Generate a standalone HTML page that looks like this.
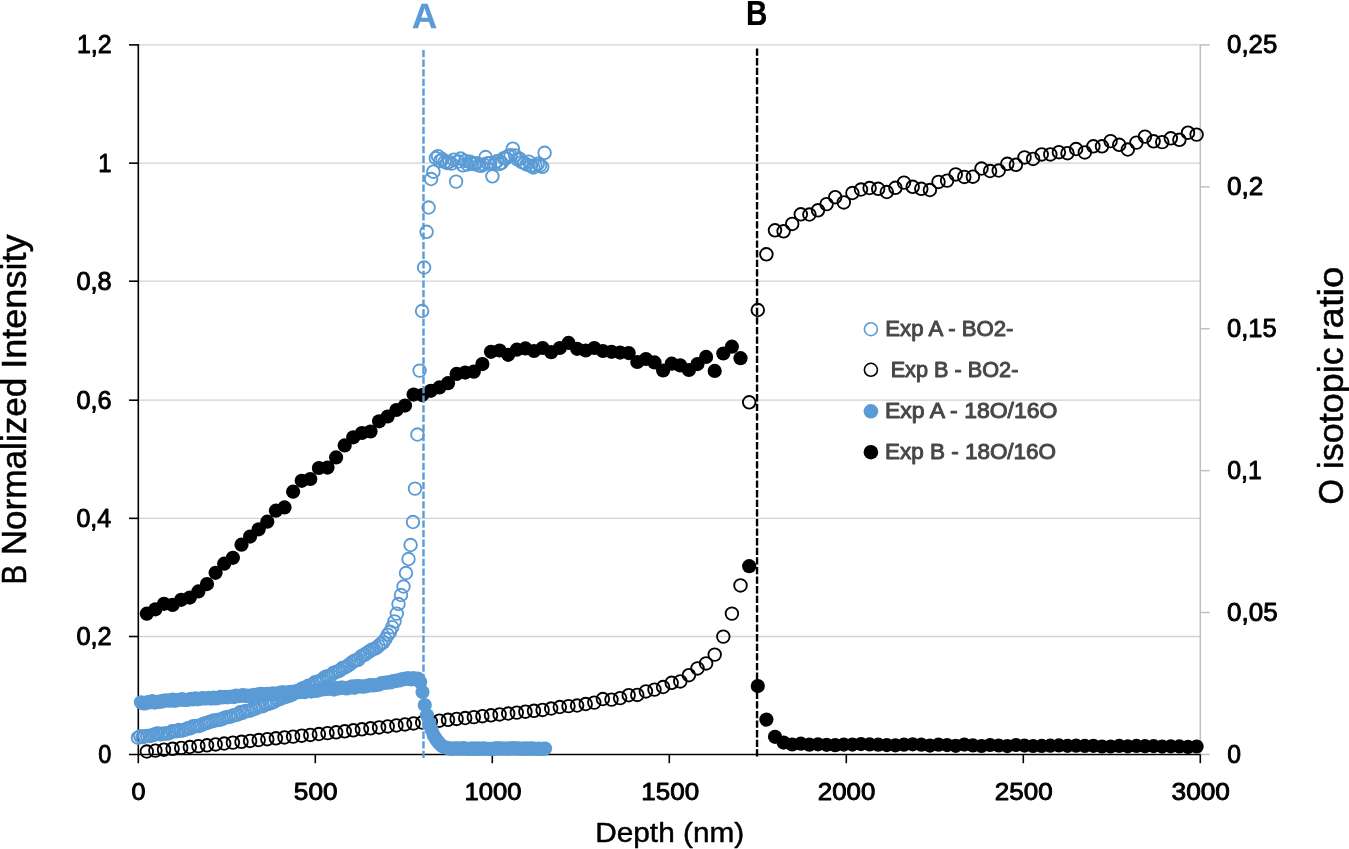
<!DOCTYPE html>
<html lang="en"><head><meta charset="utf-8"><title>B normalized intensity and O isotopic ratio versus depth</title>
<style>html,body{margin:0;padding:0;background:#fff;}body{width:1349px;height:849px;overflow:hidden;}svg{display:block;will-change:transform;filter:blur(0.4px);}text{font-family:"Liberation Sans",sans-serif;}</style></head><body>
<svg width="1349" height="849" viewBox="0 0 1349 849">
<rect width="1349" height="849" fill="#fff"/>
<g stroke="#d2d2d2" stroke-width="1.3" fill="none"><line x1="138.3" y1="44.90" x2="1200.3" y2="44.90"/><line x1="138.3" y1="163.15" x2="1200.3" y2="163.15"/><line x1="138.3" y1="281.20" x2="1200.3" y2="281.20"/><line x1="138.3" y1="400.20" x2="1200.3" y2="400.20"/><line x1="138.3" y1="518.35" x2="1200.3" y2="518.35"/><line x1="138.3" y1="636.50" x2="1200.3" y2="636.50"/></g>
<g stroke="#bfbfbf" stroke-width="1.5" fill="none"><line x1="1200.3" y1="44.9" x2="1200.3" y2="754.5"/><line x1="1200.3" y1="44.90" x2="1209.7" y2="44.90"/><line x1="1200.3" y1="186.81" x2="1209.7" y2="186.81"/><line x1="1200.3" y1="328.72" x2="1209.7" y2="328.72"/><line x1="1200.3" y1="470.63" x2="1209.7" y2="470.63"/><line x1="1200.3" y1="612.54" x2="1209.7" y2="612.54"/><line x1="1200.3" y1="754.45" x2="1209.7" y2="754.45"/></g>
<g stroke="#000" stroke-width="1.6" fill="none"><line x1="138.3" y1="44.3" x2="138.3" y2="763.2"/><line x1="129.0" y1="754.5" x2="1200.3" y2="754.5"/><line x1="129.0" y1="44.90" x2="138.3" y2="44.90"/><line x1="129.0" y1="163.15" x2="138.3" y2="163.15"/><line x1="129.0" y1="281.20" x2="138.3" y2="281.20"/><line x1="129.0" y1="400.20" x2="138.3" y2="400.20"/><line x1="129.0" y1="518.35" x2="138.3" y2="518.35"/><line x1="129.0" y1="636.50" x2="138.3" y2="636.50"/><line x1="315.30" y1="754.5" x2="315.30" y2="763.2"/><line x1="492.30" y1="754.5" x2="492.30" y2="763.2"/><line x1="669.30" y1="754.5" x2="669.30" y2="763.2"/><line x1="846.30" y1="754.5" x2="846.30" y2="763.2"/><line x1="1023.30" y1="754.5" x2="1023.30" y2="763.2"/><line x1="1200.30" y1="754.5" x2="1200.30" y2="763.2"/></g>
<g fill="none" stroke="#5b9bd5" stroke-width="1.85"><circle cx="138.0" cy="737.7" r="6.3"/><circle cx="140.3" cy="736.3" r="6.3"/><circle cx="142.5" cy="737.1" r="6.3"/><circle cx="144.8" cy="736.3" r="6.3"/><circle cx="147.1" cy="736.0" r="6.3"/><circle cx="149.4" cy="736.0" r="6.3"/><circle cx="151.6" cy="735.4" r="6.3"/><circle cx="153.9" cy="734.9" r="6.3"/><circle cx="156.2" cy="733.7" r="6.3"/><circle cx="158.4" cy="733.5" r="6.3"/><circle cx="160.7" cy="734.3" r="6.3"/><circle cx="163.0" cy="733.6" r="6.3"/><circle cx="165.2" cy="733.5" r="6.3"/><circle cx="167.5" cy="733.6" r="6.3"/><circle cx="169.8" cy="732.8" r="6.3"/><circle cx="172.1" cy="731.3" r="6.3"/><circle cx="174.3" cy="731.2" r="6.3"/><circle cx="176.6" cy="731.2" r="6.3"/><circle cx="178.9" cy="730.0" r="6.3"/><circle cx="181.1" cy="730.7" r="6.3"/><circle cx="183.4" cy="730.2" r="6.3"/><circle cx="185.7" cy="729.4" r="6.3"/><circle cx="187.9" cy="728.2" r="6.3"/><circle cx="190.2" cy="728.3" r="6.3"/><circle cx="192.5" cy="726.5" r="6.3"/><circle cx="194.8" cy="726.3" r="6.3"/><circle cx="197.0" cy="726.0" r="6.3"/><circle cx="199.3" cy="726.0" r="6.3"/><circle cx="201.6" cy="724.9" r="6.3"/><circle cx="203.8" cy="723.6" r="6.3"/><circle cx="206.1" cy="723.2" r="6.3"/><circle cx="208.4" cy="722.5" r="6.3"/><circle cx="210.6" cy="721.7" r="6.3"/><circle cx="212.9" cy="720.8" r="6.3"/><circle cx="215.2" cy="720.5" r="6.3"/><circle cx="217.5" cy="719.9" r="6.3"/><circle cx="219.7" cy="719.8" r="6.3"/><circle cx="222.0" cy="719.1" r="6.3"/><circle cx="224.3" cy="717.9" r="6.3"/><circle cx="226.5" cy="717.1" r="6.3"/><circle cx="228.8" cy="716.9" r="6.3"/><circle cx="231.1" cy="716.4" r="6.3"/><circle cx="233.3" cy="715.4" r="6.3"/><circle cx="235.6" cy="714.9" r="6.3"/><circle cx="237.9" cy="714.5" r="6.3"/><circle cx="240.2" cy="712.2" r="6.3"/><circle cx="242.4" cy="713.0" r="6.3"/><circle cx="244.7" cy="711.2" r="6.3"/><circle cx="247.0" cy="710.9" r="6.3"/><circle cx="249.2" cy="710.8" r="6.3"/><circle cx="251.5" cy="709.9" r="6.3"/><circle cx="253.8" cy="708.2" r="6.3"/><circle cx="256.0" cy="708.4" r="6.3"/><circle cx="258.3" cy="706.6" r="6.3"/><circle cx="260.6" cy="706.2" r="6.3"/><circle cx="262.9" cy="706.2" r="6.3"/><circle cx="265.1" cy="704.6" r="6.3"/><circle cx="267.4" cy="704.1" r="6.3"/><circle cx="269.7" cy="703.4" r="6.3"/><circle cx="271.9" cy="702.7" r="6.3"/><circle cx="274.2" cy="701.7" r="6.3"/><circle cx="276.5" cy="699.5" r="6.3"/><circle cx="278.7" cy="699.4" r="6.3"/><circle cx="281.0" cy="698.6" r="6.3"/><circle cx="283.3" cy="697.0" r="6.3"/><circle cx="285.6" cy="697.0" r="6.3"/><circle cx="287.8" cy="696.1" r="6.3"/><circle cx="290.1" cy="695.4" r="6.3"/><circle cx="292.4" cy="694.5" r="6.3"/><circle cx="294.6" cy="692.0" r="6.3"/><circle cx="296.9" cy="691.1" r="6.3"/><circle cx="299.2" cy="690.9" r="6.3"/><circle cx="301.4" cy="688.9" r="6.3"/><circle cx="303.7" cy="688.0" r="6.3"/><circle cx="306.0" cy="687.5" r="6.3"/><circle cx="308.3" cy="685.8" r="6.3"/><circle cx="310.5" cy="685.8" r="6.3"/><circle cx="312.8" cy="684.8" r="6.3"/><circle cx="315.1" cy="682.1" r="6.3"/><circle cx="317.3" cy="681.8" r="6.3"/><circle cx="319.6" cy="681.1" r="6.3"/><circle cx="321.9" cy="680.3" r="6.3"/><circle cx="324.1" cy="677.8" r="6.3"/><circle cx="326.4" cy="676.4" r="6.3"/><circle cx="328.7" cy="676.5" r="6.3"/><circle cx="331.0" cy="675.4" r="6.3"/><circle cx="333.2" cy="673.0" r="6.3"/><circle cx="335.5" cy="672.2" r="6.3"/><circle cx="337.8" cy="671.4" r="6.3"/><circle cx="340.0" cy="670.4" r="6.3"/><circle cx="342.3" cy="668.0" r="6.3"/><circle cx="344.6" cy="667.6" r="6.3"/><circle cx="346.8" cy="666.5" r="6.3"/><circle cx="349.1" cy="664.8" r="6.3"/><circle cx="351.4" cy="662.8" r="6.3"/><circle cx="353.7" cy="661.3" r="6.3"/><circle cx="355.9" cy="660.3" r="6.3"/><circle cx="358.2" cy="659.8" r="6.3"/><circle cx="360.5" cy="657.0" r="6.3"/><circle cx="362.7" cy="655.4" r="6.3"/><circle cx="365.0" cy="654.6" r="6.3"/><circle cx="367.3" cy="652.6" r="6.3"/><circle cx="369.5" cy="651.3" r="6.3"/><circle cx="371.8" cy="649.6" r="6.3"/><circle cx="374.1" cy="649.0" r="6.3"/><circle cx="376.4" cy="647.9" r="6.3"/><circle cx="378.6" cy="645.9" r="6.3"/><circle cx="380.9" cy="643.8" r="6.3"/><circle cx="383.2" cy="642.4" r="6.3"/><circle cx="385.4" cy="639.0" r="6.3"/><circle cx="387.7" cy="634.8" r="6.3"/><circle cx="390.0" cy="631.8" r="6.3"/><circle cx="392.2" cy="627.1" r="6.3"/><circle cx="394.5" cy="621.4" r="6.3"/><circle cx="396.8" cy="613.6" r="6.3"/><circle cx="398.5" cy="604.0" r="6.3"/><circle cx="401.0" cy="595.0" r="6.3"/><circle cx="403.5" cy="586.5" r="6.3"/><circle cx="406.0" cy="573.0" r="6.3"/><circle cx="408.5" cy="559.0" r="6.3"/><circle cx="410.6" cy="545.0" r="6.3"/><circle cx="413.0" cy="522.0" r="6.3"/><circle cx="415.0" cy="488.6" r="6.3"/><circle cx="417.4" cy="434.5" r="6.3"/><circle cx="419.6" cy="370.6" r="6.3"/><circle cx="422.1" cy="311.0" r="6.3"/><circle cx="424.1" cy="267.5" r="6.3"/><circle cx="426.6" cy="231.8" r="6.3"/><circle cx="428.6" cy="207.5" r="6.3"/><circle cx="431.1" cy="179.0" r="6.3"/><circle cx="433.4" cy="171.7" r="6.3"/><circle cx="435.8" cy="158.0" r="6.3"/><circle cx="438.0" cy="156.2" r="6.3"/><circle cx="440.2" cy="160.9" r="6.3"/><circle cx="442.5" cy="159.3" r="6.3"/><circle cx="444.7" cy="161.9" r="6.3"/><circle cx="447.0" cy="162.9" r="6.3"/><circle cx="449.3" cy="161.9" r="6.3"/><circle cx="451.5" cy="163.6" r="6.3"/><circle cx="453.8" cy="159.6" r="6.3"/><circle cx="456.1" cy="181.6" r="6.3"/><circle cx="458.4" cy="161.5" r="6.3"/><circle cx="460.6" cy="158.5" r="6.3"/><circle cx="462.9" cy="165.3" r="6.3"/><circle cx="465.2" cy="160.9" r="6.3"/><circle cx="467.4" cy="164.5" r="6.3"/><circle cx="469.7" cy="161.6" r="6.3"/><circle cx="472.0" cy="163.5" r="6.3"/><circle cx="474.2" cy="164.1" r="6.3"/><circle cx="476.5" cy="163.2" r="6.3"/><circle cx="478.8" cy="165.3" r="6.3"/><circle cx="481.1" cy="165.8" r="6.3"/><circle cx="483.3" cy="164.4" r="6.3"/><circle cx="485.6" cy="157.0" r="6.3"/><circle cx="487.9" cy="163.2" r="6.3"/><circle cx="490.1" cy="163.1" r="6.3"/><circle cx="492.4" cy="176.3" r="6.3"/><circle cx="494.7" cy="163.1" r="6.3"/><circle cx="496.9" cy="161.3" r="6.3"/><circle cx="499.2" cy="164.1" r="6.3"/><circle cx="501.5" cy="162.8" r="6.3"/><circle cx="503.8" cy="158.1" r="6.3"/><circle cx="506.0" cy="158.2" r="6.3"/><circle cx="508.3" cy="155.9" r="6.3"/><circle cx="510.6" cy="155.3" r="6.3"/><circle cx="512.8" cy="148.7" r="6.3"/><circle cx="515.1" cy="155.4" r="6.3"/><circle cx="517.4" cy="159.5" r="6.3"/><circle cx="519.6" cy="158.7" r="6.3"/><circle cx="521.9" cy="162.1" r="6.3"/><circle cx="524.2" cy="163.0" r="6.3"/><circle cx="526.5" cy="164.5" r="6.3"/><circle cx="528.7" cy="161.6" r="6.3"/><circle cx="531.0" cy="165.8" r="6.3"/><circle cx="533.3" cy="167.5" r="6.3"/><circle cx="535.5" cy="165.9" r="6.3"/><circle cx="537.8" cy="163.8" r="6.3"/><circle cx="540.1" cy="165.4" r="6.3"/><circle cx="542.3" cy="166.8" r="6.3"/><circle cx="544.6" cy="152.8" r="6.3"/></g>
<g fill="none" stroke="#000" stroke-width="1.85"><circle cx="146.8" cy="751.5" r="6.3"/><circle cx="155.4" cy="750.6" r="6.3"/><circle cx="164.0" cy="749.7" r="6.3"/><circle cx="172.6" cy="748.8" r="6.3"/><circle cx="181.2" cy="747.9" r="6.3"/><circle cx="189.8" cy="747.0" r="6.3"/><circle cx="198.4" cy="746.1" r="6.3"/><circle cx="207.0" cy="745.3" r="6.3"/><circle cx="215.6" cy="744.4" r="6.3"/><circle cx="224.2" cy="743.5" r="6.3"/><circle cx="232.9" cy="742.6" r="6.3"/><circle cx="241.5" cy="741.8" r="6.3"/><circle cx="250.1" cy="740.9" r="6.3"/><circle cx="258.7" cy="740.0" r="6.3"/><circle cx="267.3" cy="739.2" r="6.3"/><circle cx="275.9" cy="738.3" r="6.3"/><circle cx="284.5" cy="737.4" r="6.3"/><circle cx="293.1" cy="736.6" r="6.3"/><circle cx="301.7" cy="735.7" r="6.3"/><circle cx="310.3" cy="734.9" r="6.3"/><circle cx="318.9" cy="734.0" r="6.3"/><circle cx="327.5" cy="733.1" r="6.3"/><circle cx="336.1" cy="732.3" r="6.3"/><circle cx="344.7" cy="731.3" r="6.3"/><circle cx="353.3" cy="730.3" r="6.3"/><circle cx="361.9" cy="729.3" r="6.3"/><circle cx="370.5" cy="728.3" r="6.3"/><circle cx="379.1" cy="727.4" r="6.3"/><circle cx="387.7" cy="726.4" r="6.3"/><circle cx="396.4" cy="725.4" r="6.3"/><circle cx="405.0" cy="724.4" r="6.3"/><circle cx="413.6" cy="723.4" r="6.3"/><circle cx="422.2" cy="722.5" r="6.3"/><circle cx="430.8" cy="721.6" r="6.3"/><circle cx="439.4" cy="720.7" r="6.3"/><circle cx="448.0" cy="719.8" r="6.3"/><circle cx="456.6" cy="718.9" r="6.3"/><circle cx="465.2" cy="718.0" r="6.3"/><circle cx="473.8" cy="717.1" r="6.3"/><circle cx="482.4" cy="716.2" r="6.3"/><circle cx="491.0" cy="715.3" r="6.3"/><circle cx="499.6" cy="714.4" r="6.3"/><circle cx="508.2" cy="713.5" r="6.3"/><circle cx="516.8" cy="712.6" r="6.3"/><circle cx="525.4" cy="711.7" r="6.3"/><circle cx="534.0" cy="710.8" r="6.3"/><circle cx="542.6" cy="709.9" r="6.3"/><circle cx="551.2" cy="708.5" r="6.3"/><circle cx="559.8" cy="707.0" r="6.3"/><circle cx="568.5" cy="706.1" r="6.3"/><circle cx="577.1" cy="705.5" r="6.3"/><circle cx="585.7" cy="704.0" r="6.3"/><circle cx="594.3" cy="702.6" r="6.3"/><circle cx="602.9" cy="699.0" r="6.3"/><circle cx="611.5" cy="699.6" r="6.3"/><circle cx="620.1" cy="698.1" r="6.3"/><circle cx="628.7" cy="695.2" r="6.3"/><circle cx="637.3" cy="694.9" r="6.3"/><circle cx="645.9" cy="691.4" r="6.3"/><circle cx="654.5" cy="689.6" r="6.3"/><circle cx="663.1" cy="687.0" r="6.3"/><circle cx="671.7" cy="682.8" r="6.3"/><circle cx="680.3" cy="681.4" r="6.3"/><circle cx="688.9" cy="675.2" r="6.3"/><circle cx="697.5" cy="668.4" r="6.3"/><circle cx="706.1" cy="663.4" r="6.3"/><circle cx="714.7" cy="654.6" r="6.3"/><circle cx="723.3" cy="636.6" r="6.3"/><circle cx="731.9" cy="613.6" r="6.3"/><circle cx="740.5" cy="585.4" r="6.3"/><circle cx="749.2" cy="402.3" r="6.3"/><circle cx="757.8" cy="310.0" r="6.3"/><circle cx="766.4" cy="254.3" r="6.3"/><circle cx="775.0" cy="230.3" r="6.3"/><circle cx="783.6" cy="231.3" r="6.3"/><circle cx="792.2" cy="223.9" r="6.3"/><circle cx="800.8" cy="214.3" r="6.3"/><circle cx="809.4" cy="214.5" r="6.3"/><circle cx="818.0" cy="210.3" r="6.3"/><circle cx="826.6" cy="204.1" r="6.3"/><circle cx="835.2" cy="197.2" r="6.3"/><circle cx="843.8" cy="202.4" r="6.3"/><circle cx="852.4" cy="193.0" r="6.3"/><circle cx="861.0" cy="189.5" r="6.3"/><circle cx="869.6" cy="188.0" r="6.3"/><circle cx="878.2" cy="188.8" r="6.3"/><circle cx="886.8" cy="192.0" r="6.3"/><circle cx="895.4" cy="187.8" r="6.3"/><circle cx="904.0" cy="182.6" r="6.3"/><circle cx="912.7" cy="186.8" r="6.3"/><circle cx="921.3" cy="188.8" r="6.3"/><circle cx="929.9" cy="190.0" r="6.3"/><circle cx="938.5" cy="181.9" r="6.3"/><circle cx="947.1" cy="180.6" r="6.3"/><circle cx="955.7" cy="174.4" r="6.3"/><circle cx="964.3" cy="176.9" r="6.3"/><circle cx="972.9" cy="176.7" r="6.3"/><circle cx="981.5" cy="168.5" r="6.3"/><circle cx="990.1" cy="171.0" r="6.3"/><circle cx="998.7" cy="170.5" r="6.3"/><circle cx="1007.3" cy="163.8" r="6.3"/><circle cx="1015.9" cy="164.8" r="6.3"/><circle cx="1024.5" cy="157.4" r="6.3"/><circle cx="1033.1" cy="158.9" r="6.3"/><circle cx="1041.7" cy="154.4" r="6.3"/><circle cx="1050.3" cy="154.4" r="6.3"/><circle cx="1058.9" cy="152.2" r="6.3"/><circle cx="1067.5" cy="153.2" r="6.3"/><circle cx="1076.1" cy="149.0" r="6.3"/><circle cx="1084.8" cy="152.4" r="6.3"/><circle cx="1093.4" cy="146.3" r="6.3"/><circle cx="1102.0" cy="146.3" r="6.3"/><circle cx="1110.6" cy="141.1" r="6.3"/><circle cx="1119.2" cy="144.8" r="6.3"/><circle cx="1127.8" cy="149.5" r="6.3"/><circle cx="1136.4" cy="142.6" r="6.3"/><circle cx="1145.0" cy="136.6" r="6.3"/><circle cx="1153.6" cy="141.3" r="6.3"/><circle cx="1162.2" cy="142.1" r="6.3"/><circle cx="1170.8" cy="138.3" r="6.3"/><circle cx="1179.4" cy="139.8" r="6.3"/><circle cx="1188.0" cy="132.7" r="6.3"/><circle cx="1196.6" cy="134.6" r="6.3"/></g>
<g fill="#5b9bd5"><circle cx="141.0" cy="702.3" r="7.1"/><circle cx="143.3" cy="703.5" r="7.1"/><circle cx="145.5" cy="703.3" r="7.1"/><circle cx="147.8" cy="702.2" r="7.1"/><circle cx="150.1" cy="702.3" r="7.1"/><circle cx="152.4" cy="701.2" r="7.1"/><circle cx="154.6" cy="702.6" r="7.1"/><circle cx="156.9" cy="702.1" r="7.1"/><circle cx="159.2" cy="701.7" r="7.1"/><circle cx="161.4" cy="701.7" r="7.1"/><circle cx="163.7" cy="700.6" r="7.1"/><circle cx="166.0" cy="700.6" r="7.1"/><circle cx="168.2" cy="700.3" r="7.1"/><circle cx="170.5" cy="700.7" r="7.1"/><circle cx="172.8" cy="699.7" r="7.1"/><circle cx="175.1" cy="700.8" r="7.1"/><circle cx="177.3" cy="700.0" r="7.1"/><circle cx="179.6" cy="699.8" r="7.1"/><circle cx="181.9" cy="699.1" r="7.1"/><circle cx="184.1" cy="699.9" r="7.1"/><circle cx="186.4" cy="700.0" r="7.1"/><circle cx="188.7" cy="699.6" r="7.1"/><circle cx="190.9" cy="698.8" r="7.1"/><circle cx="193.2" cy="699.5" r="7.1"/><circle cx="195.5" cy="698.4" r="7.1"/><circle cx="197.8" cy="699.3" r="7.1"/><circle cx="200.0" cy="698.8" r="7.1"/><circle cx="202.3" cy="698.2" r="7.1"/><circle cx="204.6" cy="698.4" r="7.1"/><circle cx="206.8" cy="698.5" r="7.1"/><circle cx="209.1" cy="697.8" r="7.1"/><circle cx="211.4" cy="698.6" r="7.1"/><circle cx="213.6" cy="697.7" r="7.1"/><circle cx="215.9" cy="698.4" r="7.1"/><circle cx="218.2" cy="698.1" r="7.1"/><circle cx="220.5" cy="696.8" r="7.1"/><circle cx="222.7" cy="697.5" r="7.1"/><circle cx="225.0" cy="696.8" r="7.1"/><circle cx="227.3" cy="697.3" r="7.1"/><circle cx="229.5" cy="696.8" r="7.1"/><circle cx="231.8" cy="696.5" r="7.1"/><circle cx="234.1" cy="697.1" r="7.1"/><circle cx="236.3" cy="695.6" r="7.1"/><circle cx="238.6" cy="696.2" r="7.1"/><circle cx="240.9" cy="695.7" r="7.1"/><circle cx="243.2" cy="695.1" r="7.1"/><circle cx="245.4" cy="696.1" r="7.1"/><circle cx="247.7" cy="695.6" r="7.1"/><circle cx="250.0" cy="696.0" r="7.1"/><circle cx="252.2" cy="695.4" r="7.1"/><circle cx="254.5" cy="694.8" r="7.1"/><circle cx="256.8" cy="695.6" r="7.1"/><circle cx="259.0" cy="694.1" r="7.1"/><circle cx="261.3" cy="693.8" r="7.1"/><circle cx="263.6" cy="694.7" r="7.1"/><circle cx="265.9" cy="694.0" r="7.1"/><circle cx="268.1" cy="693.8" r="7.1"/><circle cx="270.4" cy="694.5" r="7.1"/><circle cx="272.7" cy="693.4" r="7.1"/><circle cx="274.9" cy="694.1" r="7.1"/><circle cx="277.2" cy="693.6" r="7.1"/><circle cx="279.5" cy="692.9" r="7.1"/><circle cx="281.7" cy="692.3" r="7.1"/><circle cx="284.0" cy="692.4" r="7.1"/><circle cx="286.3" cy="693.4" r="7.1"/><circle cx="288.6" cy="692.4" r="7.1"/><circle cx="290.8" cy="691.8" r="7.1"/><circle cx="293.1" cy="691.9" r="7.1"/><circle cx="295.4" cy="692.7" r="7.1"/><circle cx="297.6" cy="691.3" r="7.1"/><circle cx="299.9" cy="692.2" r="7.1"/><circle cx="302.2" cy="691.0" r="7.1"/><circle cx="304.4" cy="692.2" r="7.1"/><circle cx="306.7" cy="691.3" r="7.1"/><circle cx="309.0" cy="690.4" r="7.1"/><circle cx="311.3" cy="691.6" r="7.1"/><circle cx="313.5" cy="690.6" r="7.1"/><circle cx="315.8" cy="690.9" r="7.1"/><circle cx="318.1" cy="690.4" r="7.1"/><circle cx="320.3" cy="689.5" r="7.1"/><circle cx="322.6" cy="689.3" r="7.1"/><circle cx="324.9" cy="689.2" r="7.1"/><circle cx="327.1" cy="689.0" r="7.1"/><circle cx="329.4" cy="688.6" r="7.1"/><circle cx="331.7" cy="688.4" r="7.1"/><circle cx="334.0" cy="689.6" r="7.1"/><circle cx="336.2" cy="688.0" r="7.1"/><circle cx="338.5" cy="688.5" r="7.1"/><circle cx="340.8" cy="687.7" r="7.1"/><circle cx="343.0" cy="687.6" r="7.1"/><circle cx="345.3" cy="688.3" r="7.1"/><circle cx="347.6" cy="688.3" r="7.1"/><circle cx="349.8" cy="687.4" r="7.1"/><circle cx="352.1" cy="686.4" r="7.1"/><circle cx="354.4" cy="687.8" r="7.1"/><circle cx="356.7" cy="686.1" r="7.1"/><circle cx="358.9" cy="686.4" r="7.1"/><circle cx="361.2" cy="686.4" r="7.1"/><circle cx="363.5" cy="686.7" r="7.1"/><circle cx="365.7" cy="686.3" r="7.1"/><circle cx="368.0" cy="685.7" r="7.1"/><circle cx="370.3" cy="685.1" r="7.1"/><circle cx="372.5" cy="685.5" r="7.1"/><circle cx="374.8" cy="685.2" r="7.1"/><circle cx="377.1" cy="685.0" r="7.1"/><circle cx="379.4" cy="684.4" r="7.1"/><circle cx="381.6" cy="683.0" r="7.1"/><circle cx="383.9" cy="682.9" r="7.1"/><circle cx="386.2" cy="682.7" r="7.1"/><circle cx="388.4" cy="682.3" r="7.1"/><circle cx="390.7" cy="682.4" r="7.1"/><circle cx="393.0" cy="681.0" r="7.1"/><circle cx="395.2" cy="681.2" r="7.1"/><circle cx="397.5" cy="680.3" r="7.1"/><circle cx="399.8" cy="680.5" r="7.1"/><circle cx="402.1" cy="679.1" r="7.1"/><circle cx="404.3" cy="679.2" r="7.1"/><circle cx="406.6" cy="678.4" r="7.1"/><circle cx="408.9" cy="678.4" r="7.1"/><circle cx="411.1" cy="679.4" r="7.1"/><circle cx="413.4" cy="678.2" r="7.1"/><circle cx="415.7" cy="679.0" r="7.1"/><circle cx="417.9" cy="678.6" r="7.1"/><circle cx="420.2" cy="681.9" r="7.1"/><circle cx="422.5" cy="692.0" r="7.1"/><circle cx="424.8" cy="705.1" r="7.1"/><circle cx="427.0" cy="715.3" r="7.1"/><circle cx="429.3" cy="723.2" r="7.1"/><circle cx="431.6" cy="729.8" r="7.1"/><circle cx="433.8" cy="735.4" r="7.1"/><circle cx="436.1" cy="739.3" r="7.1"/><circle cx="438.4" cy="742.3" r="7.1"/><circle cx="440.6" cy="744.7" r="7.1"/><circle cx="442.9" cy="746.4" r="7.1"/><circle cx="445.2" cy="747.5" r="7.1"/><circle cx="447.5" cy="747.8" r="7.1"/><circle cx="449.7" cy="748.6" r="7.1"/><circle cx="452.0" cy="748.9" r="7.1"/><circle cx="454.3" cy="748.3" r="7.1"/><circle cx="456.5" cy="748.6" r="7.1"/><circle cx="458.8" cy="748.4" r="7.1"/><circle cx="461.1" cy="748.8" r="7.1"/><circle cx="463.3" cy="748.2" r="7.1"/><circle cx="465.6" cy="748.6" r="7.1"/><circle cx="467.9" cy="748.8" r="7.1"/><circle cx="470.2" cy="748.8" r="7.1"/><circle cx="472.4" cy="748.3" r="7.1"/><circle cx="474.7" cy="748.9" r="7.1"/><circle cx="477.0" cy="748.4" r="7.1"/><circle cx="479.2" cy="748.8" r="7.1"/><circle cx="481.5" cy="748.6" r="7.1"/><circle cx="483.8" cy="748.3" r="7.1"/><circle cx="486.0" cy="748.8" r="7.1"/><circle cx="488.3" cy="748.8" r="7.1"/><circle cx="490.6" cy="748.8" r="7.1"/><circle cx="492.9" cy="749.0" r="7.1"/><circle cx="495.1" cy="748.4" r="7.1"/><circle cx="497.4" cy="748.4" r="7.1"/><circle cx="499.7" cy="748.3" r="7.1"/><circle cx="501.9" cy="748.6" r="7.1"/><circle cx="504.2" cy="748.5" r="7.1"/><circle cx="506.5" cy="748.5" r="7.1"/><circle cx="508.7" cy="748.6" r="7.1"/><circle cx="511.0" cy="748.4" r="7.1"/><circle cx="513.3" cy="748.2" r="7.1"/><circle cx="515.6" cy="748.6" r="7.1"/><circle cx="517.8" cy="748.4" r="7.1"/><circle cx="520.1" cy="748.6" r="7.1"/><circle cx="522.4" cy="748.9" r="7.1"/><circle cx="524.6" cy="748.3" r="7.1"/><circle cx="526.9" cy="748.7" r="7.1"/><circle cx="529.2" cy="748.7" r="7.1"/><circle cx="531.4" cy="748.4" r="7.1"/><circle cx="533.7" cy="748.6" r="7.1"/><circle cx="536.0" cy="749.0" r="7.1"/><circle cx="538.3" cy="748.5" r="7.1"/><circle cx="540.5" cy="748.8" r="7.1"/><circle cx="542.8" cy="748.9" r="7.1"/><circle cx="545.1" cy="748.5" r="7.1"/></g>
<g fill="#000"><circle cx="146.8" cy="613.7" r="7.1"/><circle cx="155.4" cy="609.3" r="7.1"/><circle cx="164.0" cy="603.8" r="7.1"/><circle cx="172.6" cy="604.9" r="7.1"/><circle cx="181.2" cy="599.8" r="7.1"/><circle cx="189.8" cy="597.6" r="7.1"/><circle cx="198.4" cy="591.4" r="7.1"/><circle cx="207.0" cy="584.1" r="7.1"/><circle cx="215.6" cy="572.8" r="7.1"/><circle cx="224.2" cy="563.7" r="7.1"/><circle cx="232.9" cy="557.8" r="7.1"/><circle cx="241.5" cy="544.7" r="7.1"/><circle cx="250.1" cy="536.6" r="7.1"/><circle cx="258.7" cy="529.3" r="7.1"/><circle cx="267.3" cy="521.7" r="7.1"/><circle cx="275.9" cy="510.7" r="7.1"/><circle cx="284.5" cy="507.4" r="7.1"/><circle cx="293.1" cy="491.7" r="7.1"/><circle cx="301.7" cy="480.8" r="7.1"/><circle cx="310.3" cy="479.0" r="7.1"/><circle cx="318.9" cy="468.0" r="7.1"/><circle cx="327.5" cy="467.6" r="7.1"/><circle cx="336.1" cy="457.4" r="7.1"/><circle cx="344.7" cy="445.4" r="7.1"/><circle cx="353.3" cy="437.3" r="7.1"/><circle cx="361.9" cy="433.0" r="7.1"/><circle cx="370.5" cy="431.5" r="7.1"/><circle cx="379.1" cy="421.3" r="7.1"/><circle cx="387.7" cy="416.5" r="7.1"/><circle cx="396.4" cy="410.0" r="7.1"/><circle cx="405.0" cy="405.6" r="7.1"/><circle cx="413.6" cy="394.6" r="7.1"/><circle cx="422.2" cy="395.1" r="7.1"/><circle cx="430.8" cy="390.8" r="7.1"/><circle cx="439.4" cy="387.4" r="7.1"/><circle cx="448.0" cy="383.2" r="7.1"/><circle cx="456.6" cy="373.9" r="7.1"/><circle cx="465.2" cy="372.6" r="7.1"/><circle cx="473.8" cy="371.7" r="7.1"/><circle cx="482.4" cy="364.1" r="7.1"/><circle cx="491.0" cy="351.8" r="7.1"/><circle cx="499.6" cy="350.5" r="7.1"/><circle cx="508.2" cy="354.8" r="7.1"/><circle cx="516.8" cy="349.7" r="7.1"/><circle cx="525.4" cy="348.4" r="7.1"/><circle cx="534.0" cy="351.0" r="7.1"/><circle cx="542.6" cy="348.0" r="7.1"/><circle cx="551.2" cy="352.2" r="7.1"/><circle cx="559.8" cy="348.0" r="7.1"/><circle cx="568.5" cy="342.9" r="7.1"/><circle cx="577.1" cy="348.8" r="7.1"/><circle cx="585.7" cy="350.5" r="7.1"/><circle cx="594.3" cy="348.0" r="7.1"/><circle cx="602.9" cy="351.0" r="7.1"/><circle cx="611.5" cy="351.8" r="7.1"/><circle cx="620.1" cy="352.6" r="7.1"/><circle cx="628.7" cy="353.1" r="7.1"/><circle cx="637.3" cy="362.0" r="7.1"/><circle cx="645.9" cy="359.0" r="7.1"/><circle cx="654.5" cy="362.4" r="7.1"/><circle cx="663.1" cy="370.5" r="7.1"/><circle cx="671.7" cy="363.7" r="7.1"/><circle cx="680.3" cy="365.4" r="7.1"/><circle cx="688.9" cy="370.0" r="7.1"/><circle cx="697.5" cy="364.1" r="7.1"/><circle cx="706.1" cy="356.9" r="7.1"/><circle cx="714.7" cy="370.9" r="7.1"/><circle cx="723.3" cy="353.5" r="7.1"/><circle cx="731.9" cy="346.7" r="7.1"/><circle cx="740.5" cy="358.2" r="7.1"/><circle cx="749.2" cy="566.2" r="7.1"/><circle cx="757.8" cy="686.1" r="7.1"/><circle cx="766.4" cy="719.6" r="7.1"/><circle cx="775.0" cy="736.8" r="7.1"/><circle cx="783.6" cy="742.6" r="7.1"/><circle cx="792.2" cy="744.5" r="7.1"/><circle cx="800.8" cy="743.7" r="7.1"/><circle cx="809.4" cy="744.7" r="7.1"/><circle cx="818.0" cy="744.3" r="7.1"/><circle cx="826.6" cy="744.8" r="7.1"/><circle cx="835.2" cy="745.2" r="7.1"/><circle cx="843.8" cy="744.6" r="7.1"/><circle cx="852.4" cy="744.6" r="7.1"/><circle cx="861.0" cy="744.1" r="7.1"/><circle cx="869.6" cy="744.4" r="7.1"/><circle cx="878.2" cy="744.7" r="7.1"/><circle cx="886.8" cy="745.1" r="7.1"/><circle cx="895.4" cy="745.3" r="7.1"/><circle cx="904.0" cy="744.7" r="7.1"/><circle cx="912.7" cy="744.3" r="7.1"/><circle cx="921.3" cy="744.7" r="7.1"/><circle cx="929.9" cy="745.6" r="7.1"/><circle cx="938.5" cy="744.7" r="7.1"/><circle cx="947.1" cy="745.1" r="7.1"/><circle cx="955.7" cy="745.8" r="7.1"/><circle cx="964.3" cy="744.6" r="7.1"/><circle cx="972.9" cy="745.4" r="7.1"/><circle cx="981.5" cy="746.0" r="7.1"/><circle cx="990.1" cy="745.0" r="7.1"/><circle cx="998.7" cy="745.5" r="7.1"/><circle cx="1007.3" cy="746.1" r="7.1"/><circle cx="1015.9" cy="745.0" r="7.1"/><circle cx="1024.5" cy="745.6" r="7.1"/><circle cx="1033.1" cy="746.0" r="7.1"/><circle cx="1041.7" cy="745.9" r="7.1"/><circle cx="1050.3" cy="745.7" r="7.1"/><circle cx="1058.9" cy="745.4" r="7.1"/><circle cx="1067.5" cy="745.8" r="7.1"/><circle cx="1076.1" cy="745.7" r="7.1"/><circle cx="1084.8" cy="745.9" r="7.1"/><circle cx="1093.4" cy="745.8" r="7.1"/><circle cx="1102.0" cy="746.5" r="7.1"/><circle cx="1110.6" cy="746.5" r="7.1"/><circle cx="1119.2" cy="745.9" r="7.1"/><circle cx="1127.8" cy="746.3" r="7.1"/><circle cx="1136.4" cy="745.9" r="7.1"/><circle cx="1145.0" cy="746.2" r="7.1"/><circle cx="1153.6" cy="746.1" r="7.1"/><circle cx="1162.2" cy="746.6" r="7.1"/><circle cx="1170.8" cy="746.3" r="7.1"/><circle cx="1179.4" cy="746.4" r="7.1"/><circle cx="1188.0" cy="746.9" r="7.1"/><circle cx="1196.6" cy="746.5" r="7.1"/></g>
<line x1="423.5" y1="50" x2="423.5" y2="759" stroke="#5b9bd5" stroke-width="2.4" stroke-dasharray="7.3 2.3"/>
<line x1="757.05" y1="48.5" x2="757.05" y2="758" stroke="#000" stroke-width="2.4" stroke-dasharray="7.3 2.3"/>
<circle cx="870.9" cy="329.2" r="6.5" fill="none" stroke="#5b9bd5" stroke-width="1.6"/>
<circle cx="870.9" cy="369.8" r="6.5" fill="none" stroke="#000" stroke-width="1.6"/>
<circle cx="870.9" cy="411.3" r="7.3" fill="#5b9bd5"/>
<circle cx="870.9" cy="452.2" r="7.3" fill="#000"/>
<text id="L0" x="76.98" y="53.25" font-size="25.21" stroke="#000" stroke-width="0.9" stroke-linejoin="round" textLength="34.70" lengthAdjust="spacingAndGlyphs">1,2</text>
<text id="L1" x="98.37" y="171.50" font-size="25.21" stroke="#000" stroke-width="0.9" stroke-linejoin="round" textLength="13.26" lengthAdjust="spacingAndGlyphs">1</text>
<text id="L2" x="76.42" y="289.55" font-size="25.21" stroke="#000" stroke-width="0.9" stroke-linejoin="round" textLength="35.23" lengthAdjust="spacingAndGlyphs">0,8</text>
<text id="L3" x="76.42" y="408.55" font-size="25.21" stroke="#000" stroke-width="0.9" stroke-linejoin="round" textLength="35.09" lengthAdjust="spacingAndGlyphs">0,6</text>
<text id="L4" x="76.43" y="526.70" font-size="25.21" stroke="#000" stroke-width="0.9" stroke-linejoin="round" textLength="34.78" lengthAdjust="spacingAndGlyphs">0,4</text>
<text id="L5" x="76.42" y="644.85" font-size="25.21" stroke="#000" stroke-width="0.9" stroke-linejoin="round" textLength="35.27" lengthAdjust="spacingAndGlyphs">0,2</text>
<text id="L6" x="98.37" y="762.80" font-size="25.21" stroke="#000" stroke-width="0.9" stroke-linejoin="round" textLength="13.08" lengthAdjust="spacingAndGlyphs">0</text>
<text id="R0" x="1227.10" y="53.25" font-size="25.21" stroke="#000" stroke-width="0.9" stroke-linejoin="round" textLength="50.20" lengthAdjust="spacingAndGlyphs">0,25</text>
<text id="R1" x="1227.11" y="195.16" font-size="25.21" stroke="#000" stroke-width="0.9" stroke-linejoin="round" textLength="36.29" lengthAdjust="spacingAndGlyphs">0,2</text>
<text id="R2" x="1227.12" y="337.07" font-size="25.21" stroke="#000" stroke-width="0.9" stroke-linejoin="round" textLength="49.60" lengthAdjust="spacingAndGlyphs">0,15</text>
<text id="R3" x="1227.13" y="478.98" font-size="25.21" stroke="#000" stroke-width="0.9" stroke-linejoin="round" textLength="34.64" lengthAdjust="spacingAndGlyphs">0,1</text>
<text id="R4" x="1227.10" y="620.89" font-size="25.21" stroke="#000" stroke-width="0.9" stroke-linejoin="round" textLength="50.63" lengthAdjust="spacingAndGlyphs">0,05</text>
<text id="R5" x="1227.13" y="762.80" font-size="25.21" stroke="#000" stroke-width="0.9" stroke-linejoin="round" textLength="13.77" lengthAdjust="spacingAndGlyphs">0</text>
<text id="X0" x="131.46" y="800.05" font-size="24.51" stroke="#000" stroke-width="0.9" stroke-linejoin="round" textLength="14.01" lengthAdjust="spacingAndGlyphs">0</text>
<text id="X1" x="293.89" y="800.05" font-size="24.51" stroke="#000" stroke-width="0.9" stroke-linejoin="round" textLength="43.68" lengthAdjust="spacingAndGlyphs">500</text>
<text id="X2" x="464.54" y="800.05" font-size="24.51" stroke="#000" stroke-width="0.9" stroke-linejoin="round" textLength="56.98" lengthAdjust="spacingAndGlyphs">1000</text>
<text id="X3" x="641.31" y="800.05" font-size="24.51" stroke="#000" stroke-width="0.9" stroke-linejoin="round" textLength="57.84" lengthAdjust="spacingAndGlyphs">1500</text>
<text id="X4" x="817.77" y="800.05" font-size="24.51" stroke="#000" stroke-width="0.9" stroke-linejoin="round" textLength="57.54" lengthAdjust="spacingAndGlyphs">2000</text>
<text id="X5" x="994.87" y="800.05" font-size="24.51" stroke="#000" stroke-width="0.9" stroke-linejoin="round" textLength="57.84" lengthAdjust="spacingAndGlyphs">2500</text>
<text id="X6" x="1171.55" y="800.05" font-size="24.51" stroke="#000" stroke-width="0.9" stroke-linejoin="round" textLength="58.41" lengthAdjust="spacingAndGlyphs">3000</text>
<text id="XT" x="595.20" y="842.48" font-size="26.74" stroke="#000" stroke-width="0.45" stroke-linejoin="round" textLength="149.05" lengthAdjust="spacingAndGlyphs">Depth (nm)</text>
<text id="A" x="411.93" y="28.35" font-size="35.38" font-weight="bold" fill="#5b9bd5" stroke="#5b9bd5" stroke-width="0.3" stroke-linejoin="round" textLength="25.21" lengthAdjust="spacingAndGlyphs">A</text>
<text id="B" x="745.92" y="24.80" font-size="35.07" font-weight="bold" stroke="#000" stroke-width="0.2" stroke-linejoin="round" textLength="21.40" lengthAdjust="spacingAndGlyphs">B</text>
<text id="G1" x="885.32" y="336.23" font-size="21.52" fill="#474747" stroke="#474747" stroke-width="0.95" stroke-linejoin="round" textLength="128.17" lengthAdjust="spacingAndGlyphs">Exp A - BO2-</text>
<text id="G2" x="890.65" y="376.93" font-size="21.52" fill="#474747" stroke="#474747" stroke-width="0.95" stroke-linejoin="round" textLength="127.78" lengthAdjust="spacingAndGlyphs">Exp B - BO2-</text>
<text id="G3" x="884.97" y="417.62" font-size="21.23" fill="#474747" stroke="#474747" stroke-width="0.95" stroke-linejoin="round" textLength="172.40" lengthAdjust="spacingAndGlyphs">Exp A - 18O/16O</text>
<text id="G4" x="885.01" y="458.93" font-size="21.23" fill="#474747" stroke="#474747" stroke-width="0.95" stroke-linejoin="round" textLength="171.07" lengthAdjust="spacingAndGlyphs">Exp B - 18O/16O</text>
<text id="YL1" transform="translate(26.45 584.51) rotate(-90)" font-size="34.49" stroke="#000" stroke-width="0.5" stroke-linejoin="round" textLength="19.70" lengthAdjust="spacingAndGlyphs">B</text>
<text id="YL2" transform="translate(26.45 555.35) rotate(-90)" font-size="34.49" stroke="#000" stroke-width="0.5" stroke-linejoin="round" textLength="177.72" lengthAdjust="spacingAndGlyphs">Normalized</text>
<text id="YL3" transform="translate(26.45 368.84) rotate(-90)" font-size="34.49" stroke="#000" stroke-width="0.5" stroke-linejoin="round" textLength="134.35" lengthAdjust="spacingAndGlyphs">Intensity</text>
<text id="YR1" transform="translate(1342.65 504.52) rotate(-90)" font-size="35.35" stroke="#000" stroke-width="0.5" stroke-linejoin="round" textLength="25.41" lengthAdjust="spacingAndGlyphs">O</text>
<text id="YR2" transform="translate(1342.65 469.17) rotate(-90)" font-size="35.35" stroke="#000" stroke-width="0.5" stroke-linejoin="round" textLength="121.81" lengthAdjust="spacingAndGlyphs">isotopic</text>
<text id="YR3" transform="translate(1342.65 341.15) rotate(-90)" font-size="35.35" stroke="#000" stroke-width="0.5" stroke-linejoin="round" textLength="74.54" lengthAdjust="spacingAndGlyphs">ratio</text>
</svg></body></html>
